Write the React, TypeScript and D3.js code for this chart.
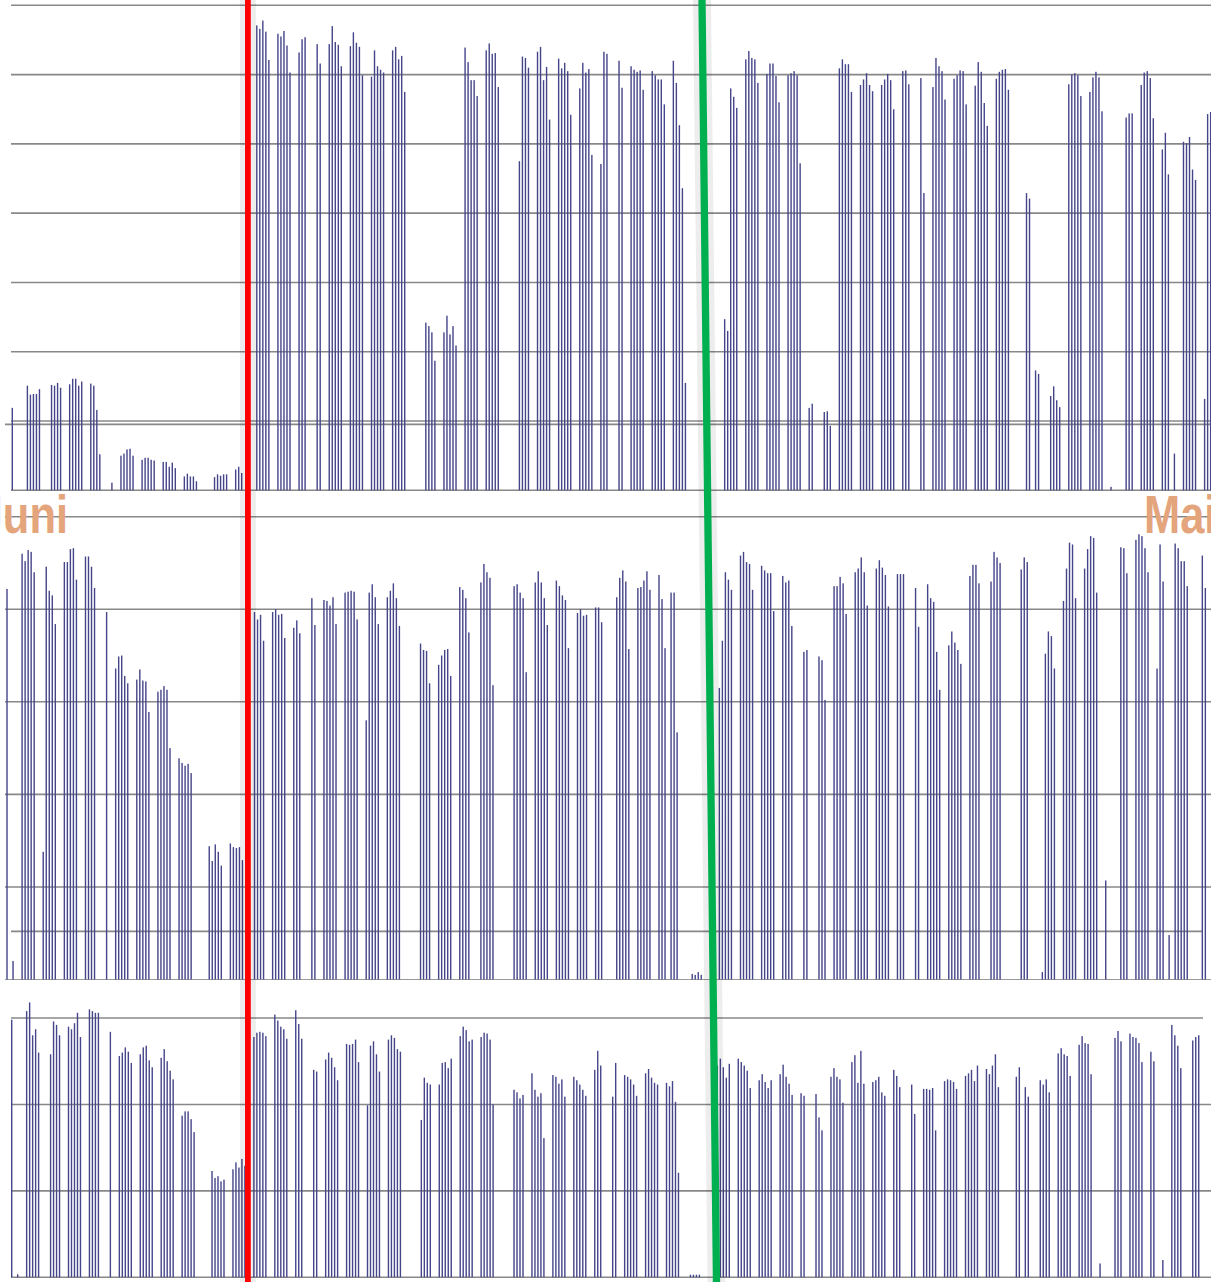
import React from 'react';
import * as d3 from 'd3';

const W = 1211;
const H = 1282;

// Panel 1 (top): [day index, value]
const panel1: [number, number][] = [
  [0, 11.9],
  [5, 15.1], [6, 13.8], [7, 13.9], [8, 13.9], [9, 14.6],
  [13, 15.2], [14, 15.1], [15, 15.5], [16, 14.8],
  [19, 15.3], [20, 16.1], [21, 16.1], [22, 15.1], [23, 15.7],
  [26, 15.4], [27, 15.1], [28, 11.6], [29, 5.2],
  [33, 1.1],
  [36, 5.0], [37, 5.3], [38, 5.9], [39, 6.0], [40, 5.0],
  [43, 4.4], [44, 4.7], [45, 4.7], [46, 4.4], [47, 4.3],
  [50, 4.1], [51, 4.1], [52, 3.4], [53, 4.0], [54, 3.2],
  [57, 2.0], [58, 2.4], [59, 2.0], [60, 2.0], [61, 1.3],
  [67, 1.9], [68, 2.3], [69, 2.1], [70, 2.3], [71, 2.3],
  [74, 3.0], [75, 3.4], [76, 2.5],
  [81, 67.1], [82, 66.6], [83, 67.8], [84, 66.2], [85, 62.1],
  [88, 65.9], [89, 65.5], [90, 66.3], [91, 64.2], [92, 60.3],
  [95, 63.2], [96, 65.1], [97, 65.4],
  [101, 64.4], [102, 61.6],
  [105, 64.4], [106, 67.0], [107, 64.7], [108, 64.3], [109, 61.2],
  [112, 64.1], [113, 66.1], [114, 64.6], [115, 64.0], [116, 59.9],
  [119, 59.7], [120, 63.5], [121, 61.2], [122, 60.7], [123, 60.3],
  [126, 63.5], [127, 64.0], [128, 62.2], [129, 62.7], [130, 57.5],
  [137, 24.2], [138, 23.7], [139, 22.8], [140, 18.7],
  [143, 22.8], [144, 25.2], [145, 22.5], [146, 23.7], [147, 20.9],
  [150, 63.9], [151, 61.8], [152, 59.2], [153, 59.2], [154, 56.9],
  [157, 63.5], [158, 64.5], [159, 63.0], [160, 63.1], [161, 58.2],
  [168, 47.5], [169, 62.6], [170, 62.4], [171, 61.0],
  [174, 63.3], [175, 64.0], [176, 59.2], [177, 61.1], [178, 53.5],
  [181, 62.3], [182, 60.9], [183, 61.7], [184, 60.5], [185, 54.2],
  [188, 58.0], [189, 61.7], [190, 60.3], [191, 60.8], [192, 48.4],
  [195, 47.1], [196, 63.3], [197, 63.0],
  [201, 62.0], [202, 58.1],
  [205, 61.2], [206, 60.7], [207, 60.4], [208, 60.6], [209, 57.8],
  [212, 60.5], [213, 59.9], [214, 59.3], [215, 59.3], [216, 55.7],
  [219, 62.0], [220, 58.8], [221, 52.7], [222, 43.6], [223, 15.5],
  [236, 24.7], [237, 23.0], [238, 58.0], [239, 56.8], [240, 55.2],
  [243, 62.2], [244, 63.4], [245, 62.4], [246, 62.2], [247, 58.8],
  [250, 60.1], [251, 61.6], [252, 61.6], [253, 59.8], [254, 56.0],
  [257, 59.9], [258, 60.2], [259, 60.5], [260, 59.9], [261, 47.2],
  [264, 11.9], [265, 12.5],
  [269, 11.3], [270, 11.4], [271, 9.3],
  [274, 60.9], [275, 62.2], [276, 61.5], [277, 61.5], [278, 57.5],
  [281, 58.5], [282, 59.3], [283, 60.2], [284, 58.5], [285, 57.6],
  [288, 58.5], [289, 59.3], [290, 60.1], [291, 59.2], [292, 55.0],
  [295, 60.5], [296, 60.6], [297, 58.6],
  [301, 59.5], [302, 42.9],
  [305, 58.2], [306, 62.4], [307, 61.2], [308, 60.5], [309, 56.4],
  [312, 59.4], [313, 59.9], [314, 60.6], [315, 60.5], [316, 55.7],
  [319, 58.4], [320, 61.8], [321, 60.4], [322, 55.9], [323, 52.6],
  [326, 59.4], [327, 60.4], [328, 60.7], [329, 60.8], [330, 57.8],
  [336, 42.9], [337, 42.1],
  [339, 17.3], [340, 16.8],
  [344, 13.6], [345, 15.0], [346, 13.0], [347, 12.0],
  [350, 58.6], [351, 60.0], [352, 60.2], [353, 59.9], [354, 56.9],
  [357, 57.5], [358, 59.6], [359, 60.4], [360, 59.6], [361, 54.7],
  [364, 0.5],
  [369, 53.8], [370, 54.4], [371, 54.4],
  [374, 58.5], [375, 60.3], [376, 60.5], [377, 59.5], [378, 53.7],
  [381, 49.2], [382, 51.6], [383, 45.6],
  [385, 5.3],
  [388, 50.3], [389, 50.1], [390, 51.0], [391, 46.3], [392, 44.8],
  [395, 13.2], [396, 54.3], [397, 54.6],
];

// Panel 2 (middle)
const panel2: [number, number][] = [
  [0, 42.2], [2, 2.0],
  [5, 46.0], [6, 45.2], [7, 46.4], [8, 46.2], [9, 44.0],
  [12, 13.8], [13, 44.6], [14, 42.0], [15, 41.5], [16, 38.4],
  [19, 45.1], [20, 45.1], [21, 46.5], [22, 46.6], [23, 43.2],
  [26, 45.7], [27, 45.7], [28, 44.6], [29, 42.3],
  [33, 39.7],
  [36, 33.6], [37, 34.9], [38, 35.0], [39, 32.8], [40, 32.0],
  [43, 32.4], [44, 33.5], [45, 32.3], [46, 32.2], [47, 28.9],
  [50, 31.1], [51, 31.3], [52, 31.7], [53, 31.3], [54, 25.0],
  [57, 23.9], [58, 23.4], [59, 23.1], [60, 23.3], [61, 22.3],
  [67, 14.4], [68, 12.8], [69, 14.6], [70, 13.8], [71, 12.3],
  [74, 14.7], [75, 14.3], [76, 14.2], [77, 14.3], [78, 12.9],
  [82, 39.7], [83, 38.9], [84, 39.4], [85, 36.6],
  [88, 39.7], [89, 40.0], [90, 39.4], [91, 39.5], [92, 36.9],
  [95, 38.0], [96, 38.8], [97, 37.4],
  [101, 41.2], [102, 38.3],
  [105, 41.0], [106, 40.9], [107, 40.4], [108, 41.3], [109, 38.4],
  [112, 41.8], [113, 41.9], [114, 42.0], [115, 41.9], [116, 38.9],
  [119, 28.0], [120, 41.8], [121, 42.7], [122, 41.3], [123, 38.4],
  [126, 41.3], [127, 42.0], [128, 42.8], [129, 41.2], [130, 38.2],
  [137, 36.3], [138, 35.6], [139, 35.5], [140, 32.0],
  [143, 34.0], [144, 35.0], [145, 35.6], [146, 35.7], [147, 32.8],
  [150, 42.4], [151, 42.1], [152, 41.2], [153, 37.5],
  [157, 42.9], [158, 44.9], [159, 44.0], [160, 43.4], [161, 31.8],
  [168, 42.5], [169, 42.7], [170, 41.8], [171, 41.2], [172, 33.2],
  [175, 42.9], [176, 44.1], [177, 42.9], [178, 41.2], [179, 38.3],
  [182, 43.1], [183, 42.5], [184, 41.5], [185, 41.0], [186, 35.8],
  [189, 39.6], [190, 40.0], [191, 39.3], [192, 39.4],
  [195, 40.2], [196, 40.2], [197, 38.6],
  [202, 41.3], [203, 43.4], [204, 44.2], [205, 43.0], [206, 35.7],
  [209, 42.3], [210, 42.4], [211, 43.1], [212, 44.1], [213, 42.1],
  [216, 43.7], [217, 41.1], [218, 35.8],
  [220, 41.8], [221, 41.8], [222, 26.7],
  [227, 0.6], [228, 0.5], [229, 0.8], [230, 0.5],
  [236, 31.5], [237, 36.6], [238, 44.0], [239, 43.2], [240, 42.1],
  [243, 45.8], [244, 46.2], [245, 45.1], [246, 44.9], [247, 42.1],
  [250, 44.7], [251, 44.2], [252, 43.9], [253, 43.9], [254, 39.8],
  [257, 43.6], [258, 42.9], [259, 43.1], [260, 38.2],
  [264, 35.4], [265, 35.6],
  [269, 34.9], [270, 34.5], [271, 30.2],
  [274, 42.5], [275, 42.5], [276, 43.5], [277, 42.8], [278, 39.5],
  [281, 44.0], [282, 44.4], [283, 45.6], [284, 44.0], [285, 40.4],
  [288, 44.4], [289, 45.3], [290, 44.5], [291, 43.7], [292, 40.3],
  [295, 43.8], [296, 43.8], [297, 43.8],
  [301, 42.3], [302, 38.1],
  [305, 42.7], [306, 41.2], [307, 40.8], [308, 35.4], [309, 31.3],
  [312, 36.1], [313, 37.6], [314, 36.4], [315, 35.6], [316, 34.1],
  [319, 43.6], [320, 44.8], [321, 44.8], [322, 42.8],
  [326, 43.0], [327, 46.2], [328, 45.6], [329, 45.0],
  [336, 44.3], [337, 45.6], [338, 45.1],
  [343, 0.8], [344, 35.2], [345, 37.6], [346, 37.1], [347, 33.6],
  [350, 40.9], [351, 44.4], [352, 47.2], [353, 47.0], [354, 41.2],
  [357, 44.4], [358, 46.5], [359, 47.9], [360, 47.7], [361, 41.8],
  [364, 10.7],
  [369, 46.7], [370, 46.6], [371, 43.9],
  [374, 47.5], [375, 48.1], [376, 47.9], [377, 46.6], [378, 44.0],
  [381, 33.6], [382, 47.0], [383, 43.0],
  [385, 4.8],
  [387, 47.1], [388, 46.6], [389, 45.2], [390, 45.2], [391, 42.5],
  [396, 45.8], [397, 42.3],
];

// Panel 3 (bottom)
const panel3: [number, number][] = [
  [0, 29.8], [2, 0.35],
  [5, 30.8], [6, 31.8], [7, 28.0], [8, 28.7], [9, 26.0],
  [13, 25.8], [14, 29.6], [15, 29.2], [16, 28.0],
  [19, 29.0], [20, 28.7], [21, 29.4], [22, 30.6], [23, 27.8],
  [26, 31.0], [27, 30.8], [28, 30.6], [29, 30.6],
  [33, 28.4],
  [36, 25.6], [37, 26.0], [38, 26.6], [39, 26.1], [40, 24.8],
  [43, 25.8], [44, 26.6], [45, 26.8], [46, 25.1], [47, 24.3],
  [50, 25.4], [51, 26.4], [52, 25.0], [53, 23.9], [54, 22.9],
  [57, 18.7], [58, 19.2], [59, 19.2], [60, 18.3], [61, 16.8],
  [67, 12.3], [68, 11.5], [69, 11.7], [70, 11.1], [71, 11.3],
  [74, 12.5], [75, 13.3], [76, 12.7], [77, 13.7], [78, 12.9],
  [81, 27.8], [82, 28.3], [83, 28.4], [84, 28.3], [85, 27.9],
  [88, 30.4], [89, 29.7], [90, 29.0], [91, 28.7], [92, 27.6],
  [95, 30.9], [96, 29.3], [97, 27.6],
  [101, 24.0], [102, 23.8],
  [105, 25.2], [106, 26.0], [107, 25.4], [108, 24.3], [109, 22.8],
  [112, 27.0], [113, 26.9], [114, 27.0], [115, 27.5], [116, 24.9],
  [119, 19.9], [120, 26.8], [121, 27.3], [122, 25.8], [123, 23.8],
  [126, 27.5], [127, 28.0], [128, 27.7], [129, 26.4], [130, 26.1],
  [137, 18.2], [138, 23.1], [139, 22.5], [140, 22.3],
  [143, 22.3], [144, 24.8], [145, 24.9], [146, 24.2], [147, 25.3],
  [150, 27.9], [151, 29.0], [152, 28.6], [153, 27.3], [154, 27.5],
  [157, 27.8], [158, 28.3], [159, 28.2], [160, 27.5], [161, 20.0],
  [168, 21.7], [169, 21.4], [170, 20.7], [171, 21.1],
  [174, 23.6], [175, 21.7], [176, 20.9], [177, 21.3], [178, 16.1],
  [181, 23.4], [182, 23.2], [183, 22.4], [184, 22.9], [185, 20.9],
  [188, 23.2], [189, 22.8], [190, 22.3], [191, 21.7], [192, 21.0],
  [195, 24.0], [196, 26.2], [197, 24.5],
  [201, 20.9], [202, 24.8],
  [205, 23.4], [206, 23.2], [207, 22.9], [208, 22.3], [209, 21.0],
  [212, 23.6], [213, 24.1], [214, 23.1], [215, 22.5], [216, 22.3],
  [219, 22.5], [220, 22.1], [221, 22.7], [222, 20.3], [223, 12.1],
  [227, 0.3], [228, 0.3], [229, 0.3], [230, 0.3],
  [236, 24.5], [237, 25.3], [238, 24.3], [239, 23.1], [240, 24.7],
  [243, 25.3], [244, 24.9], [245, 24.5], [246, 23.9], [247, 21.9],
  [250, 22.8], [251, 23.5], [252, 22.6], [253, 21.9], [254, 22.8],
  [257, 23.5], [258, 24.6], [259, 23.2], [260, 22.4], [261, 21.1],
  [264, 21.3], [265, 21.0],
  [269, 21.2], [270, 18.5], [271, 17.0],
  [274, 23.2], [275, 24.2], [276, 23.2], [277, 22.9], [278, 20.2],
  [281, 24.9], [282, 25.7], [283, 22.5], [284, 26.2], [285, 22.4],
  [288, 22.6], [289, 22.8], [290, 23.2], [291, 21.4], [292, 21.0],
  [295, 24.0], [296, 23.3], [297, 22.0],
  [301, 22.3], [302, 18.9],
  [305, 21.8], [306, 21.8], [307, 21.7], [308, 21.9], [309, 17.0],
  [312, 22.7], [313, 22.9], [314, 22.8], [315, 22.6], [316, 21.8],
  [319, 23.3], [320, 23.6], [321, 24.0], [322, 22.7], [323, 24.5],
  [326, 24.1], [327, 23.5], [328, 24.5], [329, 25.8], [330, 22.0],
  [336, 23.2], [337, 24.3],
  [339, 22.0], [340, 20.9],
  [344, 22.8], [345, 22.3], [346, 22.9], [347, 21.4],
  [350, 25.9], [351, 26.5], [352, 25.8], [353, 25.6], [354, 23.3],
  [357, 26.9], [358, 27.9], [359, 27.1], [360, 27.0], [361, 23.5],
  [364, 1.6],
  [369, 27.7], [370, 28.5], [371, 27.3],
  [374, 28.2], [375, 27.8], [376, 27.7], [377, 27.1], [378, 24.9],
  [381, 26.1], [382, 25.0],
  [385, 2.0],
  [388, 29.2], [389, 28.0], [390, 26.8], [391, 24.2],
  [395, 27.4], [396, 27.8], [397, 28.0],
];

const grid1 = [10, 20, 30, 40, 50, 60, 70];
const grid2 = [10, 20, 30, 40, 50];
const grid3 = [10, 20, 30];
const ref1 = 9.52;
const ref2 = 5.2;

const BAR = '#45458a';
const GRID = '#888888';

function Bars({ data, x, y }: { data: [number, number][]; x: any; y: any }) {
  const y0 = y(0);
  return (
    <g>
      {data.map(([d, v], i) => (
        <rect key={i} x={x(d) - 0.7} width={1.4} y={y(v)} height={y0 - y(v)} fill={BAR} />
      ))}
    </g>
  );
}

export default function App() {
  const x1 = d3.scaleLinear().domain([0, 397]).range([12.3, 12.3 + 397 * 3.0185]);
  const x2 = d3.scaleLinear().domain([0, 397]).range([7, 7 + 397 * 3.0185]);
  const x3 = d3.scaleLinear().domain([0, 397]).range([11.7, 11.7 + 397 * 2.99]);
  const y1 = d3.scaleLinear().domain([0, 70]).range([490.3, 5.3]);
  const y2 = d3.scaleLinear().domain([0, 50]).range([979.5, 516.7]);
  const y3 = d3.scaleLinear().domain([0, 30]).range([1277.3, 1018]);

  const slant = d3.line<[number, number]>()([[702, 0], [716.5, H]]) || '';

  return (
    <svg
      width={W}
      height={H}
      viewBox={`0 0 ${W} ${H}`}
      style={{ position: 'absolute', left: 0, top: 0, display: 'block', background: '#fff' }}
    >
      <rect x={0} y={0} width={W} height={H} fill="#fff" />
      <g stroke={GRID} strokeWidth={1.6}>
        {[0, ...grid1].map((g) => (
          <line key={'a' + g} x1={11} x2={W} y1={y1(g)} y2={y1(g)} />
        ))}
        <line x1={5} x2={W} y1={y1(ref1)} y2={y1(ref1)} />
        {grid2.map((g) => (
          <line key={'b' + g} x1={5} x2={W} y1={y2(g)} y2={y2(g)} />
        ))}
        <line x1={5} x2={W} y1={y2(0)} y2={y2(0)} strokeWidth={1.2} stroke="#999" />
        <line x1={11} x2={1203} y1={y2(ref2)} y2={y2(ref2)} />
        {[0, ...grid3].map((g) => (
          <line key={'c' + g} x1={11} x2={g === 30 ? 1203 : W} y1={y3(g)} y2={y3(g)} />
        ))}
      </g>
      <Bars data={panel1} x={x1} y={y1} />
      <Bars data={panel2} x={x2} y={y2} />
      <Bars data={panel3} x={x3} y={y3} />

      <line x1={247.9} x2={247.9} y1={0} y2={H} stroke="#000" strokeOpacity={0.07} strokeWidth={16} />
      <line x1={247.9} x2={247.9} y1={0} y2={H} stroke="#ff0000" strokeWidth={5.8} />
      <path d={slant} stroke="#000" strokeOpacity={0.07} strokeWidth={18} fill="none" />
      <path d={slant} stroke="#00b050" strokeWidth={7.3} fill="none" />

      <g fill="#e4a47c" fontFamily="'Liberation Sans', Arial, sans-serif" fontWeight="bold" fontSize={53}>
        <text transform="translate(68,533.3) scale(0.82,1)" textAnchor="end">Juni</text>
        <text transform="translate(1144,533.3) scale(0.82,1)">Mai</text>
      </g>
    </svg>
  );
}
